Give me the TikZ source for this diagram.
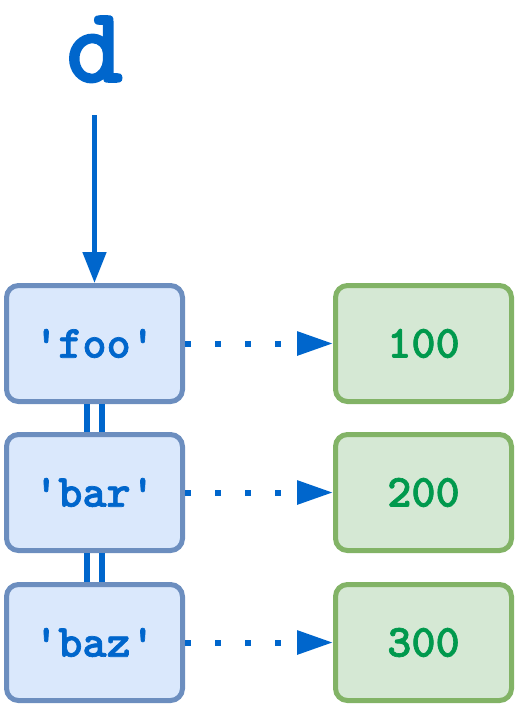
\documentclass[tikz,border=0pt]{standalone}
\usepackage{fontspec}
\newfontfamily\courfont{lmmonolt10-bold.otf}[FakeBold=1.5]
\usetikzlibrary{arrows.meta}
\definecolor{keyfill}{HTML}{DAE8FC}
\definecolor{keydraw}{HTML}{6C8EBF}
\definecolor{valfill}{HTML}{D5E8D4}
\definecolor{valdraw}{HTML}{82B366}
\definecolor{txtblue}{HTML}{0066CC}
\definecolor{txtgreen}{HTML}{00994D}
\tikzset{
  box/.style={rounded corners=12pt, line width=5pt, minimum width=176pt, minimum height=116pt,
    inner sep=0pt, font=\courfont\fontsize{46pt}{50pt}\selectfont},
  keybox/.style={box, draw=keydraw, fill=keyfill, text=txtblue},
  valbox/.style={box, draw=valdraw, fill=valfill, text=txtgreen},
  ptr/.style={draw=txtblue, line width=5pt, -{Triangle[length=31pt,width=23pt]}},
  dots/.style={draw=txtblue, line width=6pt, dash pattern=on 6pt off 24pt,
    -{Triangle[length=36pt,width=23pt]}},
  link/.style={draw=txtblue, line width=6pt}
}
\begin{document}
\begin{tikzpicture}[x=1pt,y=-1pt]
\useasboundingbox (0,0) rectangle (516,705);
\node[anchor=base, inner sep=0pt, text=txtblue, font=\courfont\fontsize{108pt}{110pt}\selectfont] (d) at (94.5,82) {d};
\node[keybox] (k1) at (94.5,343.5) {'foo'};
\node[keybox] (k2) at (94.5,492.5) {'bar'};
\node[keybox] (k3) at (94.5,642.5) {'baz'};
\node[valbox] (v1) at (423.5,343.5) {100};
\node[valbox] (v2) at (423.5,492.5) {200};
\node[valbox] (v3) at (423.5,642.5) {300};
\draw[ptr, shorten <=33pt] (d.base) -- (k1.north);
\draw[dots] (k1) -- (v1);
\draw[dots] (k2) -- (v2);
\draw[dots] (k3) -- (v3);
\draw[link] ([xshift=-7.5pt]k1.south) -- ([xshift=-7.5pt]k2.north);
\draw[link] ([xshift=7.5pt]k1.south) -- ([xshift=7.5pt]k2.north);
\draw[link] ([xshift=-7.5pt]k2.south) -- ([xshift=-7.5pt]k3.north);
\draw[link] ([xshift=7.5pt]k2.south) -- ([xshift=7.5pt]k3.north);
\end{tikzpicture}
\end{document}
